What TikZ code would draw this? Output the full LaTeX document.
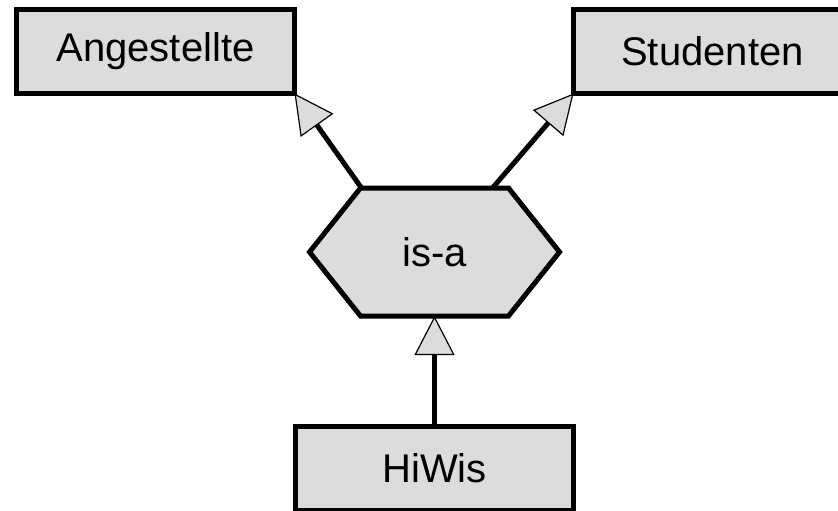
\documentclass[tikz,border=0pt]{standalone}
\usepackage{fontspec}
\setmainfont{Liberation Sans}
\usetikzlibrary{arrows.meta,calc}
\definecolor{boxgray}{RGB}{220,220,220}
\tikzset{
  lbl/.style={font=\fontsize{40}{46}\selectfont},
  entity/.style={lbl, draw=black, fill=boxgray, line width=5pt, minimum width=278pt,
    minimum height=84pt, inner sep=0pt, outer sep=0pt},
  relshape/.style={line width=5pt, draw=black, fill=boxgray, line join=miter},
  isalink/.style={line width=5pt, draw=black,
    -{Triangle[open, fill=boxgray, length=39pt, width=40pt, line width'=1.2pt]}}
}
\begin{document}
\begin{tikzpicture}[x=1pt,y=-1pt]
  \useasboundingbox (0,0) rectangle (838,511);
  \clip (0,0) rectangle (838,511);
  \node[entity] (ang) at (155.5,51.5) {Angestellte};
  \node[entity] (stu) at (712.5,51.5) {Studenten};
  \node[entity] (hiwis) at (434.5,468.5) {HiWis};
  \node[minimum width=250pt, minimum height=128pt, inner sep=0pt, outer sep=0pt] (isa) at (434.5,252) {};
  \path[relshape] (isa.west) -- ($(isa.north west)+(51,0)$) -- ($(isa.north east)+(-51,0)$)
     -- (isa.east) -- ($(isa.south east)+(-51,0)$) -- ($(isa.south west)+(51,0)$) -- cycle;
  \node[lbl] (isatext) at (isa.center) {is-a};
  \coordinate (la) at ($(isa.north west)+(52,0)$);
  \coordinate (ra) at ($(isa.north)+(58,0)$);
  \draw[isalink] (la) -- (ang.south east);
  \draw[isalink] (ra) -- (stu.south west);
  \draw[isalink] (hiwis.north) -- (isa.south);
\end{tikzpicture}
\end{document}
